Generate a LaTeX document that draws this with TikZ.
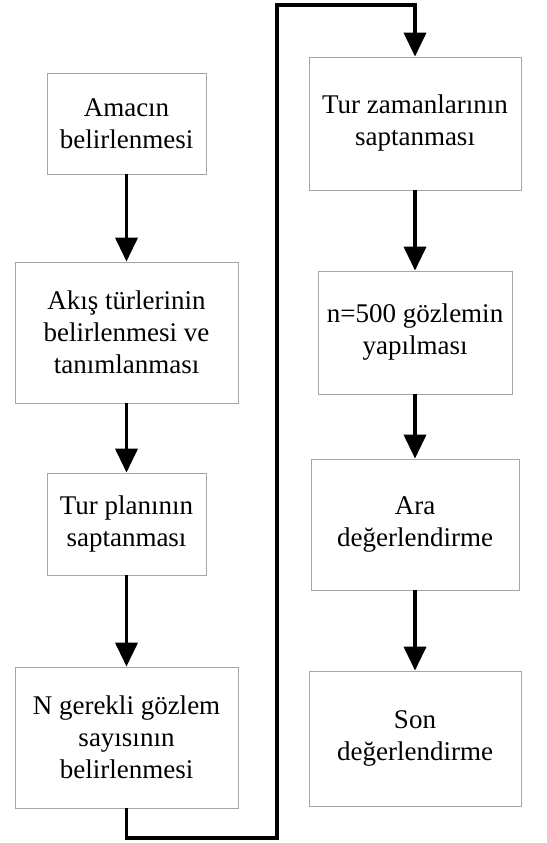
\documentclass[tikz,border=0pt]{standalone}
\usepackage{fontspec}
\setmainfont{Liberation Serif}
\usetikzlibrary{arrows.meta}
\tikzstyle{box}=[rectangle, draw=black!35, line width=0.8pt, inner sep=0pt, align=center, anchor=center, font=\fontsize{27}{32}\selectfont]
\tikzstyle{flow}=[line width=3.8pt, -{Triangle[width=22pt,length=24pt]}]
\begin{document}
\begin{tikzpicture}[x=1pt, y=-1pt]
	\useasboundingbox (0,0) rectangle (546,843);

	% left column
	\node[box, minimum width=159pt, minimum height=101pt](stage1) at (126.5,123.5){Amacın\\belirlenmesi};
	\node[box, minimum width=223pt, minimum height=141pt](stage2) at (126.5,332.5){Akış türlerinin\\belirlenmesi ve\\tanımlanması};
	\node[box, minimum width=159pt, minimum height=102pt](stage3) at (126.5,524){Tur planının\\saptanması};
	\node[box, minimum width=223pt, minimum height=141pt](stage4) at (126.5,737.5){N gerekli gözlem\\sayısının\\belirlenmesi};

	% right column
	\node[box, minimum width=212pt, minimum height=133pt](stage5) at (415,123.5){Tur zamanlarının\\saptanması};
	\node[box, minimum width=194pt, minimum height=123pt](stage6) at (415,332.5){n=500 gözlemin\\yapılması};
	\node[box, minimum width=208pt, minimum height=131pt](stage7) at (415,524.5){Ara\\değerlendirme};
	\node[box, minimum width=212pt, minimum height=135pt](stage8) at (415,738.5){Son\\değerlendirme};

	\draw[flow] (stage1) -- (stage2);
	\draw[flow] (stage2) -- (stage3);
	\draw[flow] (stage3) -- (stage4);
	\draw[flow] (stage5) -- (stage6);
	\draw[flow] (stage6) -- (stage7);
	\draw[flow] (stage7) -- (stage8);

	% loop over to the second column
	\coordinate (low) at (277,838);
	\coordinate (high) at (277,5);
	\draw[flow] (stage4.south) |- (low) -- (high) -| (stage5.north);

\end{tikzpicture}
\end{document}
